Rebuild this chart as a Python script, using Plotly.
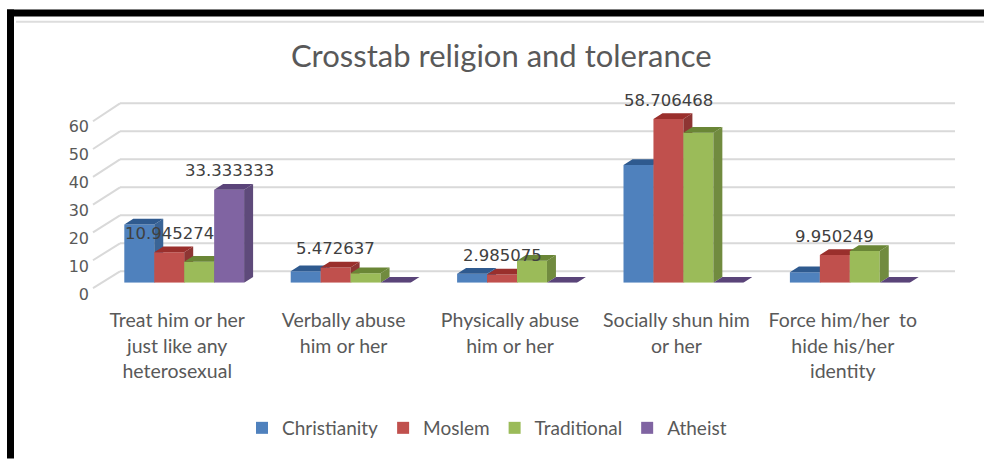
import plotly.graph_objects as go

# ---------------- data ----------------
categories = [
    "Treat him or her<br>just like any<br>heterosexual",
    "Verbally abuse<br>him or her",
    "Physically abuse<br>him or her",
    "Socially shun him<br>or her",
    "Force him/her  to<br>hide his/her<br>identity",
]
series_names = ["Christianity", "Moslem", "Traditional", "Atheist"]
christianity = [20.9, 4.1, 3.2, 42.2, 3.8]
moslem = [10.945274, 5.472637, 2.985075, 58.706468, 9.950249]
traditional = [7.5, 3.4, 7.9, 53.8, 11.4]
atheist = [33.333333, 0, 0, 0, 0]
y_ticks = [0, 10, 20, 30, 40, 50, 60]
title_text = "Crosstab religion and tolerance"

# ---------------- styles ----------------
W, H = 984, 470
front_colors = ["#4F81BD", "#C0504D", "#9BBB59", "#8064A2"]
side_colors = ["#3A6496", "#8E3533", "#718B3F", "#5E4A7A"]
top_colors = ["#2F5A8F", "#9A2F2C", "#6A8636", "#5A4479"]
num_font = "DejaVu Sans"
txt_font = "Lato, Liberation Sans, sans-serif"

def px(x):
    return x / W

def py(y):
    return 1 - y / H

# plot geometry (pixels)
X_LEFT, X_RIGHT = 101, 933
Y_ZERO = 296
PX_PER_UNIT = 2.92
Y_TOP = 105
Y_MAX = (Y_ZERO - Y_TOP) / PX_PER_UNIT
PX_PER_CAT = (X_RIGHT - X_LEFT) / 5.0
BAR_W = 0.18
DEPTH_DX = 9 / PX_PER_CAT
DEPTH_DY = 6 / PX_PER_UNIT

all_series = [christianity, moslem, traditional, atheist]
xs = list(range(len(categories)))

fig = go.Figure()
for s, (name, vals) in enumerate(zip(series_names, all_series)):
    off = -0.36 + BAR_W * s
    fig.add_trace(go.Bar(
        x=xs, y=vals, name=name, width=BAR_W, offset=off,
        marker=dict(color=front_colors[s], line=dict(width=0)),
        zorder=3 * s, hoverinfo="skip",
    ))
    sx, sy, tx, ty = [], [], [], []
    for i, v in enumerate(vals):
        xl = i + off
        xr = xl + BAR_W
        sx += [xr, xr + DEPTH_DX, xr + DEPTH_DX, xr, xr, None]
        sy += [0, DEPTH_DY, v + DEPTH_DY, v, 0, None]
        tx += [xl, xl + DEPTH_DX, xr + DEPTH_DX, xr, xl, None]
        ty += [v, v + DEPTH_DY, v + DEPTH_DY, v, v, None]
    fig.add_trace(go.Scatter(
        x=sx, y=sy, mode="lines", fill="toself", fillcolor=side_colors[s],
        line=dict(width=0, color=side_colors[s]), showlegend=False,
        hoverinfo="skip", zorder=3 * s + 1,
    ))
    fig.add_trace(go.Scatter(
        x=tx, y=ty, mode="lines", fill="toself", fillcolor=top_colors[s],
        line=dict(width=0, color=top_colors[s]), showlegend=False,
        hoverinfo="skip", zorder=3 * s + 2,
    ))

# data labels (Moslem series, plus non-zero Atheist values)
annotations = []
for i, v in enumerate(moslem):
    annotations.append(dict(
        x=i - 0.36 + BAR_W * 1.5, y=v, xref="x", yref="y",
        text=f"{v:.6f}", showarrow=False, yshift=19, yanchor="middle",
        font=dict(family=num_font, size=16.5, color="#404040"),
    ))
for i, v in enumerate(atheist):
    if v:
        annotations.append(dict(
            x=i - 0.36 + BAR_W * 3.5, y=v, xref="x", yref="y",
            text=f"{v:.6f}", showarrow=False, yshift=19, yanchor="middle",
            font=dict(family=num_font, size=16.5, color="#404040"),
        ))

# title
annotations.append(dict(
    x=px(501.5), y=py(58), xref="paper", yref="paper", text=title_text,
    showarrow=False, xanchor="center", yanchor="middle",
    font=dict(family=txt_font, size=31, color="#595959"),
))

# back-wall gridlines with perspective stubs
shapes = []
GRID = "#D9D9D9"
for t in y_ticks:
    front_y = 301.5 - 2.91 * t
    back_y = 284 - 2.93 * t
    shapes.append(dict(type="line", xref="paper", yref="paper",
                       x0=px(93), y0=py(front_y), x1=px(120), y1=py(back_y),
                       line=dict(color=GRID, width=2), layer="below"))
    shapes.append(dict(type="line", xref="paper", yref="paper",
                       x0=px(120), y0=py(back_y), x1=px(955), y1=py(back_y),
                       line=dict(color=GRID, width=2), layer="below"))

# outer frame
shapes.append(dict(type="rect", xref="paper", yref="paper",
                   x0=px(7), x1=px(1000), y0=py(10), y1=py(17.3),
                   fillcolor="black", line=dict(width=0), layer="above"))
shapes.append(dict(type="rect", xref="paper", yref="paper",
                   x0=px(7), x1=px(14), y0=py(10), y1=py(480),
                   fillcolor="black", line=dict(width=0), layer="above"))
shapes.append(dict(type="line", xref="paper", yref="paper",
                   x0=px(16), x1=px(984), y0=py(22.7), y1=py(22.7),
                   line=dict(color="#DDDDDD", width=2), layer="above"))

fig.update_layout(
    width=W, height=H,
    margin=dict(l=0, r=0, t=0, b=0),
    paper_bgcolor="white", plot_bgcolor="rgba(0,0,0,0)",
    barmode="overlay",
    showlegend=True,
    legend=dict(orientation="h", x=px(487), y=py(448), xanchor="center",
                yanchor="middle", itemwidth=30,
                font=dict(family=txt_font, size=19, color="#595959"),
                bgcolor="rgba(0,0,0,0)"),
    annotations=annotations,
    shapes=shapes,
    xaxis=dict(domain=[px(X_LEFT), px(X_RIGHT)], range=[-0.5, 4.5],
               tickvals=xs, ticktext=categories, showgrid=False, zeroline=False,
               showline=False, ticks="", ticklabelstandoff=24, ticklabelshift=-7,
               tickfont=dict(family=txt_font, size=19.5, color="#595959"),
               fixedrange=True),
    yaxis=dict(domain=[py(Y_ZERO), py(Y_TOP)], range=[0, Y_MAX],
               tickvals=y_ticks, showgrid=False, zeroline=False, showline=False,
               ticks="", ticklabelstandoff=11, ticklabelposition="outside bottom",
               tickfont=dict(family=num_font, size=16, color="#595959"),
               fixedrange=True),
)

fig.write_html("out.html")
